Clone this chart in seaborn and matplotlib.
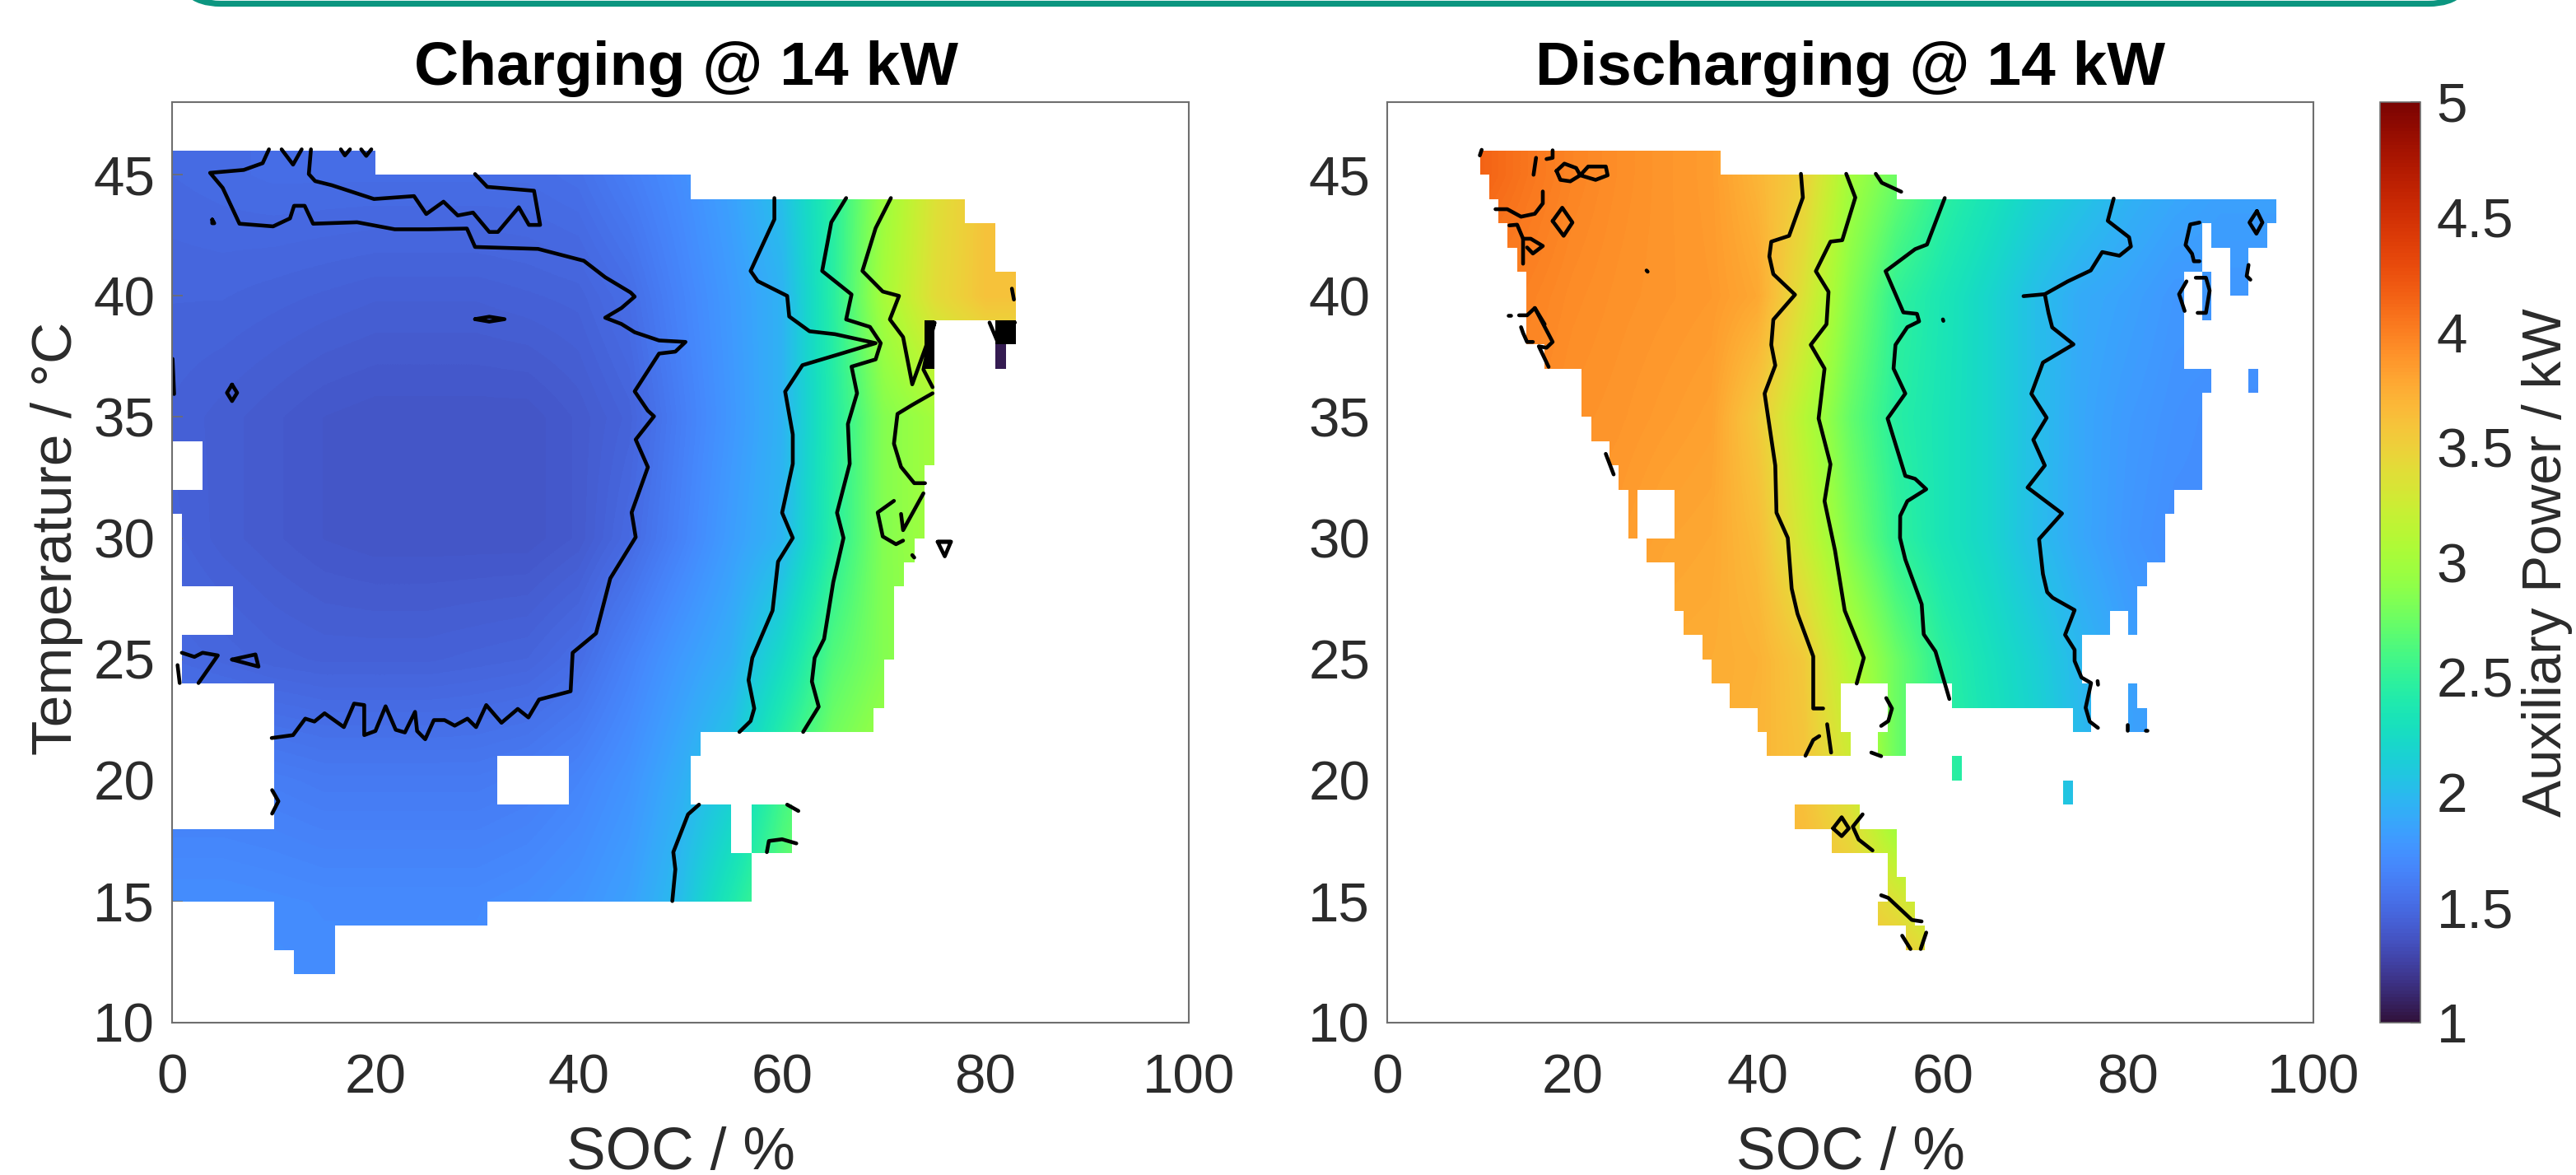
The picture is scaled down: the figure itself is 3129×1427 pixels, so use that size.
import numpy as np
import matplotlib
matplotlib.use('Agg')
import matplotlib.pyplot as plt
from matplotlib.colors import ListedColormap
from matplotlib.patches import FancyBboxPatch
from matplotlib.transforms import IdentityTransform
import seaborn as sns

# values, kW on a 5 % SOC / 5 degC grid
soc_grid = list(range(0, 101, 5))
temp_grid = [10, 15, 20, 25, 30, 35, 40, 45, 50]

charging_power = [
    [1.75, 1.75, 1.74, 1.72, 1.72, 1.72, 1.72, 1.75, 1.80, 1.88, 2.10, 2.40, 2.75, 3.00, 3.00, 3.00, 3.00, 3.00, 3.00, 3.00, 3.00],
    [1.72, 1.72, 1.71, 1.70, 1.70, 1.70, 1.70, 1.72, 1.76, 1.84, 2.02, 2.38, 2.72, 3.00, 3.00, 3.00, 3.00, 3.00, 3.00, 3.00, 3.00],
    [1.63, 1.63, 1.62, 1.60, 1.60, 1.60, 1.60, 1.62, 1.67, 1.76, 1.92, 2.12, 2.55, 2.85, 3.00, 3.10, 3.10, 3.10, 3.10, 3.10, 3.10],
    [1.50, 1.48, 1.46, 1.45, 1.45, 1.45, 1.46, 1.47, 1.52, 1.65, 1.80, 1.93, 2.25, 2.65, 2.85, 2.95, 3.00, 3.00, 3.00, 3.00, 3.00],
    [1.46, 1.43, 1.41, 1.39, 1.38, 1.38, 1.38, 1.38, 1.41, 1.50, 1.65, 1.82, 1.97, 2.45, 2.85, 3.00, 3.05, 3.05, 3.05, 3.05, 3.05],
    [1.45, 1.43, 1.41, 1.39, 1.38, 1.38, 1.38, 1.38, 1.41, 1.46, 1.62, 1.78, 1.95, 2.42, 2.85, 3.00, 3.10, 3.10, 3.10, 3.10, 3.10],
    [1.47, 1.47, 1.46, 1.45, 1.44, 1.44, 1.44, 1.45, 1.46, 1.52, 1.66, 1.80, 1.95, 2.45, 3.02, 3.40, 3.60, 3.60, 3.60, 3.60, 3.60],
    [1.50, 1.51, 1.52, 1.52, 1.52, 1.52, 1.52, 1.52, 1.54, 1.62, 1.72, 1.85, 2.05, 2.45, 2.95, 3.35, 3.60, 3.70, 3.70, 3.70, 3.70],
    [1.50, 1.51, 1.52, 1.52, 1.52, 1.52, 1.52, 1.52, 1.54, 1.62, 1.72, 1.85, 2.05, 2.45, 2.95, 3.35, 3.60, 3.70, 3.70, 3.70, 3.70],
]

discharging_power = [
    [3.75, 3.75, 3.75, 3.75, 3.75, 3.75, 3.75, 3.75, 3.75, 3.70, 3.65, 3.85, 3.60, 3.30, 3.20, 3.20, 3.20, 3.20, 3.20, 3.20, 3.20],
    [3.75, 3.75, 3.75, 3.75, 3.75, 3.75, 3.75, 3.75, 3.72, 3.70, 3.60, 3.35, 3.10, 2.80, 2.40, 2.00, 1.85, 1.80, 1.80, 1.80, 1.80],
    [3.75, 3.75, 3.75, 3.75, 3.75, 3.75, 3.75, 3.75, 3.70, 3.60, 3.30, 2.75, 2.50, 2.35, 2.20, 2.00, 1.85, 1.80, 1.80, 1.80, 1.80],
    [3.80, 3.80, 3.80, 3.80, 3.80, 3.78, 3.76, 3.75, 3.72, 3.55, 3.10, 2.75, 2.47, 2.30, 2.15, 1.98, 1.85, 1.78, 1.78, 1.78, 1.78],
    [3.90, 3.90, 3.90, 3.90, 3.88, 3.85, 3.80, 3.78, 3.65, 3.25, 2.82, 2.50, 2.33, 2.20, 2.02, 1.88, 1.78, 1.72, 1.72, 1.72, 1.72],
    [3.95, 3.95, 3.95, 3.95, 3.90, 3.88, 3.85, 3.82, 3.55, 3.12, 2.72, 2.45, 2.33, 2.20, 2.03, 1.88, 1.80, 1.75, 1.72, 1.72, 1.72],
    [4.00, 4.00, 4.00, 3.98, 3.93, 3.90, 3.88, 3.86, 3.78, 3.35, 2.85, 2.50, 2.35, 2.20, 2.03, 1.90, 1.85, 1.78, 1.78, 1.78, 1.78],
    [4.15, 4.15, 4.15, 4.05, 3.97, 3.92, 3.88, 3.85, 3.70, 3.50, 3.00, 2.75, 2.50, 2.35, 2.20, 2.10, 1.97, 1.90, 1.85, 1.85, 1.85],
    [4.15, 4.15, 4.15, 4.05, 3.97, 3.92, 3.88, 3.85, 3.70, 3.50, 3.00, 2.75, 2.50, 2.35, 2.20, 2.10, 1.97, 1.90, 1.85, 1.85, 1.85],
]

# measured SOC ranges for each 1 degC row, everything else stays white
charging_spans = {
    45: [(0, 20)], 44: [(0, 51)], 43: [(0, 78)], 42: [(0, 81)], 41: [(0, 81)],
    40: [(0, 83)], 39: [(0, 83)], 38: [(0, 75)], 37: [(0, 75)], 36: [(0, 75)],
    35: [(0, 75)], 34: [(0, 75)], 33: [(3, 75)], 32: [(3, 74)], 31: [(0, 74)],
    30: [(1, 74)], 29: [(1, 73)], 28: [(1, 72)], 27: [(6, 71)], 26: [(6, 71)],
    25: [(1, 71)], 24: [(1, 70)], 23: [(10, 70)], 22: [(10, 69)], 21: [(10, 52)],
    20: [(10, 32), (39, 51)], 19: [(10, 32), (39, 51)], 18: [(10, 55), (57, 61)],
    17: [(0, 55), (57, 61)], 16: [(0, 57)], 15: [(0, 57)], 14: [(10, 31)],
    13: [(10, 16)], 12: [(12, 16)],
}
discharging_spans = {
    45: [(10, 36)], 44: [(11, 55)], 43: [(12, 96)], 42: [(13, 88), (89, 95)],
    41: [(14, 88), (91, 93)], 40: [(15, 86), (88, 89), (91, 93)],
    39: [(15, 86), (88, 89)], 38: [(15, 86)], 37: [(17, 86)],
    36: [(21, 89), (93, 94)], 35: [(21, 88)], 34: [(22, 88)], 33: [(24, 88)],
    32: [(25, 88)], 31: [(26, 27), (31, 85)], 30: [(26, 27), (31, 84)],
    29: [(28, 84)], 28: [(31, 82)], 27: [(31, 81)], 26: [(32, 78), (80, 81)],
    25: [(34, 75)], 24: [(35, 75)], 23: [(37, 49), (54, 56), (61, 76), (80, 81)],
    22: [(40, 49), (54, 56), (74, 76), (80, 82)], 21: [(41, 50), (53, 56)],
    20: [(61, 62)], 19: [(73, 74)], 18: [(44, 51)], 17: [(48, 55)], 16: [(54, 55)],
    15: [(54, 56)], 14: [(53, 57)], 13: [(56, 58)],
}
# (temperature row, soc from, soc to, kW), very low cells at the charging edge
charging_low_cells = [(38, 81, 83, 0.5), (37, 81, 82, 1.05), (38, 74, 75, 0.5), (37, 74, 75, 0.5)]

# contour lines read as (SOC, temperature) points
charging_contours = [
    [(9.53, 46.05), (8.91, 45.48), (7.05, 45.2), (3.74, 45.08), (4.98, 44.46), (6.63, 42.98), (9.94, 42.87),
     (11.6, 43.2), (12.0, 43.72), (13.04, 43.72), (13.87, 42.98), (18.2, 43.04), (21.9, 42.75), (25.2, 42.75),
     (29.0, 42.78), (29.8, 42.02), (36.0, 41.94), (40.5, 41.45), (42.6, 40.77), (45.1, 40.14), (45.5, 39.97),
     (44.2, 39.5), (42.6, 39.1), (44.2, 38.84), (45.5, 38.5), (47.9, 38.16), (50.5, 38.1), (49.5, 37.7),
     (47.9, 37.62), (45.5, 36.06), (46.8, 35.26), (47.4, 35.03), (45.6, 34.07), (46.8, 32.93), (45.2, 31.06),
     (45.6, 30.04), (43.1, 28.34), (41.7, 26.07), (39.4, 25.27), (39.2, 23.68), (36.1, 23.34), (35.05, 22.6),
     (34.0, 22.95), (32.4, 22.38), (30.9, 23.11), (29.9, 22.2), (29.05, 22.55), (27.8, 22.26), (26.8, 22.49),
     (25.75, 22.49), (24.9, 21.7), (24.1, 22.04), (23.9, 22.83), (22.9, 21.98), (22.0, 22.09), (21.0, 23.06),
     (20.0, 22.04), (18.9, 21.87), (18.9, 23.11), (17.9, 23.17), (16.9, 22.2), (15.0, 22.77), (14.0, 22.43),
     (13.1, 22.55), (11.9, 21.87), (9.8, 21.75)],
    [(13.66, 46.05), (13.45, 45.03), (14.07, 44.74), (15.7, 44.57), (19.86, 44.0), (23.8, 44.12), (25.0, 43.38),
     (26.7, 43.89), (28.1, 43.32), (29.6, 43.44), (31.2, 42.64), (32.05, 42.64), (34.1, 43.66), (35.1, 42.93),
     (36.2, 42.93), (35.6, 44.34), (31.0, 44.5), (29.8, 45.03)],
    [(10.77, 46.05), (11.9, 45.42), (12.75, 46.05)],
    [(16.6, 46.05), (17.0, 45.8), (17.5, 46.05)],
    [(18.6, 46.05), (19.1, 45.78), (19.6, 46.05)],
    [(3.95, 43.15), (4.15, 43.0), (3.95, 43.0), (3.95, 43.15)],
    [(29.8, 39.04), (31.2, 39.14), (32.7, 39.04), (31.2, 38.94), (29.8, 39.04)],
    [(0.05, 37.4), (0.2, 35.95)],
    [(5.9, 36.34), (6.4, 36.0), (5.9, 35.66), (5.4, 36.0), (5.9, 36.34)],
    [(0.96, 25.27), (2.2, 25.1), (3.0, 25.27), (4.5, 25.16), (2.6, 24.02)],
    [(0.54, 24.76), (0.75, 24.02)],
    [(5.9, 24.99), (8.2, 25.2), (8.5, 24.7), (5.9, 24.99)],
    [(9.84, 19.6), (10.46, 19.14), (9.84, 18.63)],
    [(59.24, 44.04), (59.24, 43.16), (56.9, 41.03), (57.6, 40.61), (60.5, 40.0), (60.7, 39.15), (62.7, 38.54),
     (65.2, 38.42), (69.2, 38.05), (65.9, 37.63), (62.0, 37.14), (60.3, 36.05), (61.05, 34.28), (61.05, 33.07),
     (60.0, 31.05), (61.05, 30.01), (59.6, 29.03), (59.06, 27.01), (57.07, 25.06), (56.7, 24.14), (57.26, 22.97),
     (56.9, 22.45), (55.8, 22.0)],
    [(51.83, 19.0), (50.75, 18.6), (49.3, 17.04), (49.5, 16.33), (49.2, 15.02)],
    [(60.5, 19.0), (61.6, 18.74)],
    [(58.5, 17.04), (58.7, 17.5), (60.0, 17.57), (61.4, 17.4)],
    [(66.3, 44.04), (64.84, 43.04), (63.94, 41.03), (66.83, 40.06), (66.3, 39.03), (68.64, 38.72), (69.7, 38.05),
     (69.2, 37.38), (66.83, 37.08), (67.37, 35.98), (66.47, 34.71), (66.65, 33.07), (65.4, 31.05), (66.04, 30.01),
     (65.03, 28.18), (64.13, 25.84), (63.2, 25.06), (62.93, 24.08), (63.6, 23.04), (62.07, 22.0)],
    [(70.7, 44.04), (69.2, 42.8), (67.9, 41.03), (69.9, 40.18), (71.5, 40.0), (70.6, 39.03), (71.9, 38.3),
     (72.8, 36.35), (75.0, 38.9), (74.4, 37.93), (73.9, 36.96), (74.8, 36.23)],
    [(74.8, 35.98), (72.8, 35.5), (71.35, 35.13), (71.0, 33.9), (71.7, 32.94), (73.0, 32.27), (74.06, 32.27)],
    [(71.0, 31.54), (69.4, 31.06), (69.9, 30.07), (71.2, 29.75), (71.9, 29.9)],
    [(73.9, 31.85), (71.9, 30.33), (71.7, 31.0)],
    [(72.8, 29.3), (73.0, 29.2)],
    [(82.6, 40.3), (82.8, 39.85)],
    [(75.3, 29.85), (76.6, 29.85), (76.0, 29.25), (75.3, 29.85), (76.6, 29.85)],
    [(80.4, 38.9), (81.2, 38.1), (81.2, 38.9), (82.9, 38.9)],
]
discharging_contours = [
    [(44.67, 45.04), (44.88, 44.06), (43.39, 42.48), (41.47, 42.24), (41.26, 41.63), (41.69, 40.9), (44.03, 40.05),
     (41.69, 39.02), (41.47, 37.98), (41.9, 37.13), (40.75, 35.97), (41.9, 33.0), (42.03, 31.05), (43.25, 30.01),
     (43.67, 27.92), (44.3, 26.88), (46.0, 25.12), (46.0, 22.97), (47.07, 22.97)],
    [(47.5, 22.32), (47.93, 21.15)],
    [(45.16, 21.02), (46.0, 21.67), (46.65, 21.83)],
    [(49.56, 45.04), (50.54, 44.06), (49.13, 42.3), (47.86, 42.24), (46.28, 41.02), (47.65, 40.17), (47.43, 38.83),
     (45.73, 37.98), (47.22, 37.0), (46.58, 34.94), (47.86, 33.05), (47.22, 31.53), (48.35, 29.49), (49.4, 27.01),
     (51.46, 25.06), (50.69, 24.0)],
    [(60.2, 44.04), (58.28, 42.12), (57.0, 41.93), (53.81, 41.02), (55.73, 39.32), (57.2, 39.26), (57.43, 38.95),
     (56.16, 38.71), (54.88, 37.98), (54.67, 37.0), (55.94, 35.97), (54.03, 34.94), (55.94, 32.57), (57.0, 32.45),
     (58.2, 32.02), (56.16, 31.53), (55.39, 30.92), (55.37, 30.01), (55.94, 29.12), (57.71, 27.27), (57.93, 26.03),
     (59.2, 25.32), (60.7, 23.36)],
    [(52.75, 45.04), (53.4, 44.67), (55.5, 44.3)],
    [(53.88, 23.4), (54.5, 22.97), (54.1, 22.45), (53.33, 22.25)],
    [(52.27, 21.15), (53.33, 21.0)],
    [(78.44, 44.02), (77.8, 43.1), (80.1, 42.42), (80.3, 42.04), (79.06, 41.66), (77.2, 41.81), (75.96, 41.05),
     (73.48, 40.6), (71.0, 40.07), (71.4, 39.3), (71.8, 38.7), (74.1, 38.0), (70.8, 37.25), (69.55, 35.96),
     (71.2, 34.97), (69.76, 34.06), (71.0, 33.0), (69.14, 32.09), (72.86, 31.02), (70.38, 29.96), (70.8, 28.52),
     (71.26, 27.77), (71.85, 27.54), (74.22, 27.03), (73.19, 26.01), (74.22, 25.39), (74.22, 24.93), (74.96, 24.25),
     (76.0, 24.02), (75.41, 23.0), (75.85, 22.43), (76.74, 22.17)],
    [(68.7, 39.99), (71.0, 40.07)],
    [(79.94, 22.3), (79.94, 22.05)],
    [(81.85, 22.06), (82.0, 22.06)],
    [(76.7, 24.1), (76.75, 23.95)],
    [(10.2, 46.03), (10.0, 45.8)],
    [(16.07, 45.7), (15.8, 45.0)],
    [(17.86, 46.01), (17.86, 45.7), (17.2, 45.65)],
    [(18.28, 45.16), (19.13, 45.46), (20.4, 45.28), (20.84, 44.98), (21.7, 45.34), (23.6, 45.34), (23.8, 44.98),
     (22.5, 44.79), (20.84, 44.98), (19.77, 44.73), (18.7, 44.79), (18.28, 45.16)],
    [(16.8, 44.31), (16.8, 43.82), (15.94, 43.39), (14.45, 43.27), (12.96, 43.58), (11.69, 43.58)],
    [(17.86, 43.09), (18.9, 43.64), (20.0, 43.03), (19.05, 42.48), (17.86, 43.09)],
    [(13.18, 42.91), (14.03, 42.94), (14.67, 42.36), (14.67, 41.33)],
    [(14.67, 42.36), (15.5, 42.36), (16.8, 42.06), (15.73, 41.75), (15.1, 42.0)],
    [(28.0, 41.05), (28.12, 41.0)],
    [(60.0, 39.03), (60.05, 38.97)],
    [(13.1, 39.2), (13.3, 39.2)],
    [(14.24, 39.2), (15.1, 39.2), (15.94, 39.5), (17.0, 38.83)],
    [(14.45, 38.71), (14.67, 38.47), (15.1, 38.1), (15.73, 38.1)],
    [(15.94, 39.5), (17.86, 38.1), (17.2, 37.86), (16.37, 37.92), (17.43, 37.07)],
    [(23.6, 33.48), (24.45, 32.63)],
    [(48.14, 18.02), (49.07, 18.48), (49.84, 18.02), (49.07, 17.7), (48.14, 18.02)],
    [(51.33, 18.6), (50.27, 18.09), (50.9, 17.56), (52.4, 17.11)],
    [(53.33, 15.26), (54.1, 15.15), (56.65, 14.24), (57.7, 14.18)],
    [(55.6, 13.59), (56.5, 13.04)],
    [(58.2, 13.72), (57.6, 13.04)],
    [(87.7, 43.03), (86.7, 42.95), (86.2, 42.1), (86.9, 41.74), (87.1, 41.43), (87.7, 41.43)],
    [(86.3, 40.6), (85.5, 40.07), (86.1, 39.38)],
    [(87.3, 40.75), (88.4, 40.75), (88.8, 40.22), (88.4, 39.3), (87.5, 39.3)],
    [(93.9, 43.5), (93.1, 43.03), (93.85, 42.57), (94.5, 43.03), (93.9, 43.5)],
    [(93.0, 41.28), (92.8, 40.82), (93.2, 40.67)],
]

x_ticks = [0, 20, 40, 60, 80, 100]
y_ticks = [10, 15, 20, 25, 30, 35, 40, 45]
cbar_ticks = [1, 1.5, 2, 2.5, 3, 3.5, 4, 4.5, 5]
cbar_labels = ['1', '1.5', '2', '2.5', '3', '3.5', '4', '4.5', '5']

W, H = 3129, 1427
TEXT = '#2b2b2b'
EDGE = '#6e6e6e'
LABEL_SIZE = 48.5

sns.set_theme(style='white')
plt.rcParams['font.family'] = ['Liberation Sans', 'DejaVu Sans']
turbo = plt.get_cmap('turbo').copy()
turbo.set_under('black')


def px_axes(fig, x0, x1, y0, y1):
    return fig.add_axes([x0 / W, 1 - y1 / H, (x1 - x0) / W, (y1 - y0) / H])


def draw_panel(ax, power, spans, contours, title, low_cells=()):
    im = ax.imshow(power, origin='lower', aspect='auto', cmap=turbo, vmin=1, vmax=5,
                   interpolation='bilinear', extent=[-2.5, 102.5, 7.5, 52.5])

    # white out everything that was not measured
    outside = np.ones((48, 100), dtype=bool)
    for temp, ranges in spans.items():
        for a, b in ranges:
            outside[temp, a:b] = False
    sns.heatmap(np.ones((48, 100)), mask=~outside, cmap=ListedColormap(['white']), vmin=0, vmax=1,
                cbar=False, xticklabels=False, yticklabels=False, ax=ax)

    if len(low_cells) > 0:
        low = np.full((48, 100), np.nan)
        for temp, a, b, val in low_cells:
            low[temp, a:b] = val
        sns.heatmap(low, cmap=turbo, vmin=1, vmax=5, cbar=False,
                    xticklabels=False, yticklabels=False, ax=ax)

    for line in contours:
        xs = [p[0] for p in line]
        ys = [p[1] for p in line]
        sns.lineplot(x=xs, y=ys, sort=False, estimator=None, color='black', linewidth=3.3,
                     legend=False, ax=ax, solid_joinstyle='round', solid_capstyle='round')

    ax.set_xlim(0, 100)
    ax.set_ylim(10, 48)
    ax.set_xticks(x_ticks)
    ax.set_xticklabels([str(t) for t in x_ticks])
    ax.set_yticks(y_ticks)
    ax.set_yticklabels([str(t) for t in y_ticks])
    ax.tick_params(direction='in', top=True, right=True, length=9, width=1.2, color=EDGE,
                   labelsize=LABEL_SIZE, labelcolor=TEXT, bottom=True, left=True)
    ax.tick_params(axis='x', pad=27)
    ax.tick_params(axis='y', pad=15)
    for s in ax.spines.values():
        s.set_visible(True)
        s.set_color(EDGE)
        s.set_linewidth(1.5)
    # lineplot hides the labels when the axes has no ticks yet
    ax.set_xlabel('SOC / %', fontsize=51.5, color=TEXT, labelpad=19, visible=True)
    ax.set_ylabel('', visible=True)
    ax.set_title(title, fontsize=54, fontweight='bold', color='black', pad=15)
    return im


fig = plt.figure(figsize=(W / 100, H / 100), dpi=100, facecolor='white')

# teal frame of the slide, only its lower edge is left in the crop
fig.add_artist(FancyBboxPatch((215, H - 4.5), 2788, 300, boxstyle='round,pad=0,rounding_size=53',
                              transform=IdentityTransform(), facecolor='white', edgecolor='#0c9680',
                              linewidth=5.2, clip_on=False))

ax1 = px_axes(fig, 209, 1444, 124, 1242)
ax2 = px_axes(fig, 1685, 2810, 124, 1242)
cax = px_axes(fig, 2891, 2940, 124, 1242)

im = draw_panel(ax1, charging_power, charging_spans, charging_contours, 'Charging @ 14 kW', charging_low_cells)
draw_panel(ax2, discharging_power, discharging_spans, discharging_contours, 'Discharging @ 14 kW')
ax1.set_ylabel('Temperature / °C', fontsize=50, color=TEXT, labelpad=9, visible=True)
ax1.yaxis.label.set_y(0.526)
ax1.title.set_x(0.506)

cb = fig.colorbar(im, cax=cax, extend='neither')
cb.set_ticks(cbar_ticks)
cb.set_ticklabels(cbar_labels)
cax.tick_params(direction='in', length=9, width=1.2, color='#333333', labelsize=LABEL_SIZE, labelcolor=TEXT, pad=14)
cb.outline.set_edgecolor(EDGE)
cb.outline.set_linewidth(1.2)
cb.set_label('Auxiliary Power / kW', fontsize=LABEL_SIZE, color=TEXT, labelpad=7)

fig.savefig('out.png', dpi=100)
